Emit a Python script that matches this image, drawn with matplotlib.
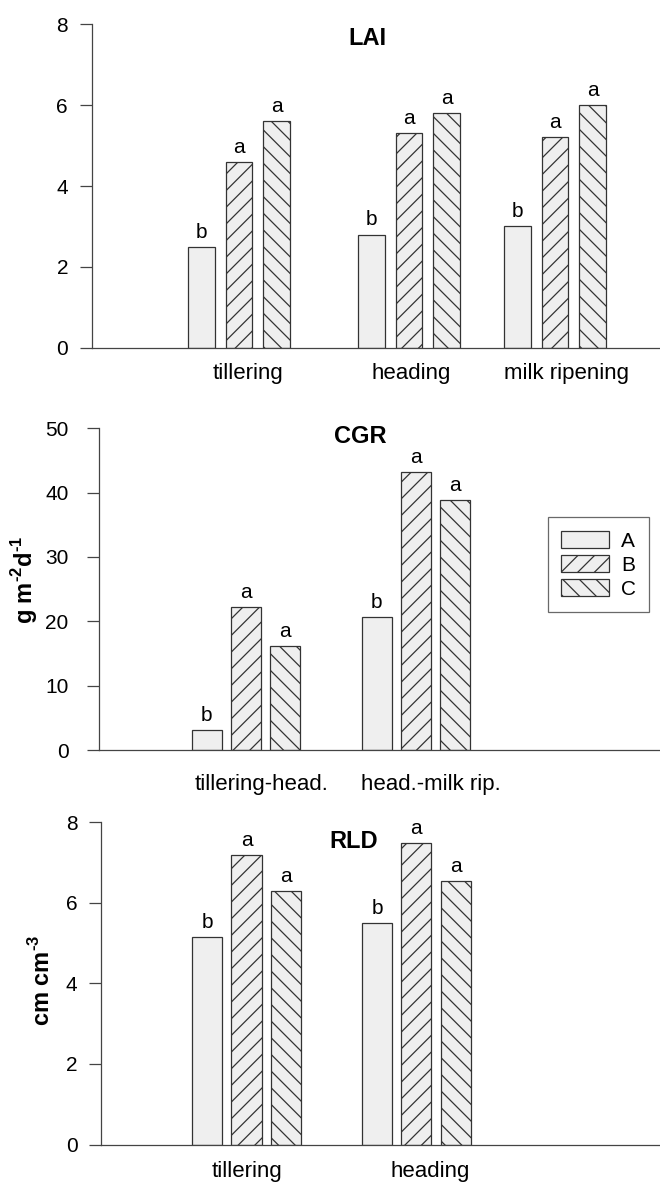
import numpy as np
import matplotlib
matplotlib.use('Agg')
import matplotlib.pyplot as plt

plt.rcParams['font.family'] = ['Liberation Sans', 'DejaVu Sans']
plt.rcParams['hatch.linewidth'] = 0.9

treatments = ['A', 'B', 'C']

lai_stages = ['tillering', 'heading', 'milk ripening']
lai_A = [2.5, 2.8, 3.0]
lai_B = [4.6, 5.3, 5.2]
lai_C = [5.6, 5.8, 6.0]
lai_letters = [['b', 'b', 'b'], ['a', 'a', 'a'], ['a', 'a', 'a']]

cgr_stages = ['tillering-head.', 'head.-milk rip.']
cgr_A = [3.1, 20.7]
cgr_B = [22.2, 43.2]
cgr_C = [16.2, 38.9]
cgr_letters = [['b', 'b'], ['a', 'a'], ['a', 'a']]

rld_stages = ['tillering', 'heading']
rld_A = [5.15, 5.5]
rld_B = [7.17, 7.48]
rld_C = [6.29, 6.54]
rld_letters = [['b', 'b'], ['a', 'a'], ['a', 'a']]

fill = '#efefef'
edge = '#333333'
hatches = ['', '//', '\\\\']

W, H = 660, 1183
fig = plt.figure(figsize=(W / 100, H / 100), dpi=100)


def panel(rect, groups, series, letters, labels, label_pos, xmax, width,
          ymax, ystep, title, title_xy, ylabel=None, ylabel_x=None,
          tickpad=8, xpad=11):
    ax = fig.add_axes(rect)
    bars = []
    for i, vals in enumerate(series):
        x = np.array(groups) + (i - 1)
        b = ax.bar(x, vals, width=width, color=fill, edgecolor=edge,
                   hatch=hatches[i], linewidth=0.9)
        bars.append(b)
        for xi, v, t in zip(x, vals, letters[i]):
            ax.annotate(t, (xi, v), xytext=(0, 6.5), textcoords='offset points',
                        ha='center', va='baseline', fontsize=15)
    ax.set_xlim(0, xmax)
    ax.set_ylim(0, ymax)
    ax.set_yticks(np.arange(0, ymax + 0.01, ystep))
    ax.set_xticks(label_pos)
    ax.set_xticklabels(labels, fontsize=16)
    ax.tick_params(axis='x', length=0, pad=xpad)
    ax.tick_params(axis='y', length=9, width=0.9, color='#444444',
                   labelsize=15, pad=tickpad)
    for s in ['top', 'right']:
        ax.spines[s].set_visible(False)
    for s in ['left', 'bottom']:
        ax.spines[s].set_color('#444444')
        ax.spines[s].set_linewidth(0.9)
    ax.text(title_xy[0], title_xy[1], title, transform=ax.transAxes,
            ha='center', va='center', fontsize=17, fontweight='bold')
    if ylabel:
        ax.set_ylabel(ylabel, fontsize=17, fontweight='bold')
        ax.yaxis.set_label_coords(ylabel_x[0], ylabel_x[1])
    ax.patch.set_alpha(0)
    return ax, bars


# LAI
panel([91.7 / W, 1 - 347.7 / H, (W - 91.7) / W, 323.4 / H],
      [3.93, 8.46, 12.35], [lai_A, lai_B, lai_C], lai_letters,
      lai_stages, [4.17, 8.51, 12.65], 15.15, 0.71, 8, 2,
      'LAI', (0.486, 0.955))

# CGR
ax2, bars2 = panel([99.3 / W, 1 - 750 / H, (W - 99.3) / W, 321.7 / H],
                   [3.76, 8.12], [cgr_A, cgr_B, cgr_C], cgr_letters,
                   cgr_stages, [4.17, 8.51], 14.38, 0.77, 50, 10,
                   'CGR', (0.465, 0.973), 'g m$^{\\mathregular{\u2010}\\mathregular{2}}$d$^{\\mathregular{\u2010}\\mathregular{1}}$',
                   (-0.106, 0.528), tickpad=13, xpad=17)
leg = ax2.legend([b[0] for b in bars2], treatments, loc='upper left',
                 bbox_to_anchor=(0.800, 0.724), fontsize=15, frameon=True,
                 fancybox=False, edgecolor='#444444', handlelength=2.3,
                 handleheight=0.92, labelspacing=0.2, borderpad=0.65,
                 handletextpad=0.55, borderaxespad=0)
leg.get_frame().set_linewidth(0.9)

# RLD
panel([101 / W, 1 - 1144.5 / H, (W - 101) / W, 322.5 / H],
      [3.70, 8.01], [rld_A, rld_B, rld_C], rld_letters,
      rld_stages, [3.72, 8.35], 14.2, 0.77, 8, 2,
      'RLD', (0.4526, 0.938), 'cm cm$^{\\mathregular{\u2010}\\mathregular{3}}$',
      (-0.082, 0.51), xpad=12)

fig.savefig('out.png', dpi=100, facecolor='white')
